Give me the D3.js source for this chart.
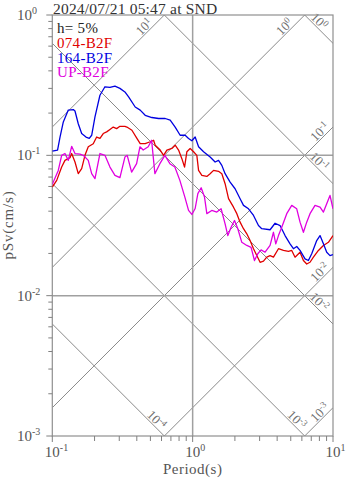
<!DOCTYPE html>
<html><head><meta charset="utf-8">
<script src="https://cdn.jsdelivr.net/npm/d3@7"></script>
<style>body{margin:0;background:#fff}svg{display:block}</style>
</head><body>
<script>
const titleText = "2024/07/21 05:47 at SND";
const dampingText = "h= 5%";
const seriesNames = ["074-B2F", "164-B2F", "UP-B2F"];
const seriesColors = ["#e00000", "#0000e0", "#e000e0"];
const xTickValues = [0.1, 1, 10];
const yTickValues = [1, 0.1, 0.01, 0.001];
const accelLines = [10, 1, 0.1, 0.01, 0.001];      // constant pSa (cm/s^2)
const dispLines = [1, 0.1, 0.01, 0.001, 0.0001];   // constant Sd (cm)

const period074 = [0.100,0.1075,0.1166,0.1231,0.1337,0.1374,0.1451,0.1531,0.1619,0.1709,
0.1804,0.1958,0.2070,0.2185,0.2307,0.2439,0.2575,0.2718,0.2873,0.3033,
0.3291,0.3401,0.3692,0.4007,0.4229,0.4590,0.4983,0.5269,0.5409,0.5871,
0.6207,0.6552,0.7112,0.7506,0.7936,0.8379,0.8756,0.9094,0.9598,1.015,
1.071,1.102,1.163,1.262,1.332,1.409,1.529,1.614,1.703,1.802,
1.955,2.064,2.178,2.303,2.431,2.566,2.714,2.864,3.023,3.197,
3.374,3.562,3.765,4.087,4.436,4.815,5.082,5.365,5.823,6.155,
6.497,6.859,7.252,7.873,8.546,9.275,10.0];
const sv074 = [0.0594,0.0663,0.0825,0.0921,0.0963,0.103,0.0896,0.0740,0.0804,0.100,
0.115,0.121,0.135,0.132,0.143,0.147,0.153,0.159,0.155,0.161,
0.161,0.159,0.151,0.132,0.121,0.121,0.125,0.128,0.118,0.109,
0.100,0.109,0.112,0.118,0.109,0.0947,0.0825,0.106,0.112,0.106,
0.100,0.0781,0.0720,0.0708,0.0740,0.0781,0.0769,0.0740,0.0628,0.0491,
0.0427,0.0384,0.0334,0.0300,0.0276,0.0247,0.0216,0.0193,0.0173,0.0176,
0.0188,0.0193,0.0188,0.0216,0.0210,0.0207,0.0210,0.0188,0.0204,0.0178,
0.0168,0.0173,0.0188,0.0210,0.0228,0.0240,0.0268];

const period164 = [0.100,0.109,0.1135,0.1198,0.130,0.1411,0.1451,0.1531,0.1619,0.1738,
0.1834,0.1908,0.2014,0.2185,0.2372,0.2575,0.2795,0.3033,0.3291,0.3497,
0.3896,0.4229,0.459,0.5124,0.5719,0.6373,0.6918,0.7506,0.8147,0.8843,
0.935,0.9869,1.042,1.102,1.196,1.332,1.446,1.529,1.614,1.703,
1.849,2.006,2.178,2.303,2.5,2.714,2.944,3.108,3.562,3.866,
4.196,4.554,4.943,5.225,5.515,5.823,6.319,6.681,7.053,7.656,
8.083,8.546,9.021,9.519,10.0];
const sv164 = [0.107,0.109,0.135,0.173,0.210,0.212,0.207,0.168,0.143,0.135,
0.132,0.139,0.188,0.268,0.308,0.305,0.311,0.300,0.283,0.261,
0.221,0.210,0.193,0.186,0.183,0.183,0.178,0.159,0.139,0.139,
0.132,0.127,0.135,0.115,0.106,0.0972,0.0896,0.0921,0.0848,0.0740,
0.0645,0.0578,0.0491,0.0440,0.0416,0.0373,0.0316,0.0300,0.0295,0.0328,
0.0316,0.0268,0.0234,0.0216,0.0224,0.0210,0.0183,0.0178,0.0199,0.0247,
0.0268,0.0234,0.0204,0.0193,0.0196];

const periodUP = [0.100,0.1103,0.1166,0.1231,0.1300,0.1374,0.1451,0.1575,0.1662,0.1804,
0.1908,0.2014,0.2185,0.2372,0.2575,0.2795,0.3033,0.3291,0.3418,0.3674,
0.3988,0.4210,0.4444,0.4823,0.5099,0.5383,0.5842,0.6341,0.6883,0.7470,
0.8108,0.8800,0.9350,0.9869,1.042,1.089,1.150,1.215,1.262,1.369,
1.487,1.595,1.703,1.781,1.879,1.987,2.098,2.240,2.431,2.608,
2.758,2.912,3.073,3.281,3.562,3.765,3.911,4.087,4.314,4.682,
5.082,5.515,5.823,6.155,6.497,6.859,7.445,8.083,8.546,9.021,
9.519,10.0];
const svUP = [0.0621,0.0781,0.100,0.103,0.0921,0.116,0.103,0.102,0.100,0.0921,
0.0740,0.0682,0.103,0.100,0.0825,0.0720,0.0693,0.0972,0.100,0.0760,
0.0872,0.115,0.109,0.115,0.128,0.0740,0.0872,0.100,0.0872,0.0825,
0.0663,0.0504,0.0405,0.0379,0.0418,0.0533,0.0588,0.0504,0.0384,0.0405,
0.0394,0.0416,0.0325,0.0268,0.0307,0.0343,0.0300,0.0240,0.0228,0.0221,
0.0178,0.0199,0.0212,0.0204,0.0228,0.0283,0.0234,0.0268,0.0307,0.0384,
0.0440,0.0416,0.0334,0.0283,0.0334,0.0384,0.0440,0.0427,0.0394,0.0452,
0.0518,0.0416];

const seriesPeriods = [period074, period164, periodUP];
const seriesValues = [sv074, sv164, svUP];

const W = 347, H = 478;
const M = {left: 52.3, right: 333, top: 15, bottom: 436};
const FONT = "'Liberation Serif','Times New Roman',serif";
const x = d3.scaleLog().domain([0.1, 10]).range([M.left, M.right]);
const y = d3.scaleLog().domain([0.001, 1]).range([M.bottom, M.top]);

const svg = d3.select("body").append("svg").attr("width", W).attr("height", H)
  .style("font-family", FONT);

svg.append("defs").append("clipPath").attr("id", "clip").append("rect")
  .attr("x", M.left).attr("y", M.top).attr("width", M.right - M.left).attr("height", M.bottom - M.top);

const TWO_PI = 2 * Math.PI;
const gDiag = svg.append("g").attr("clip-path", "url(#clip)");
const gLab = svg.append("g");
const diagColor = "#8a8a8a";
function expLabel(sel, exp, sup, dy) {
  sel.append("tspan").text("10");
  sel.append("tspan").attr("dy", dy).attr("font-size", sup).text(exp);
}
function fmtExp(v) { return String(Math.round(Math.log10(v))); }

// constant acceleration lines (slope +1)
accelLines.forEach(a => {
  const f = T => a * T / TWO_PI;
  gDiag.append("line")
    .attr("x1", x(0.1)).attr("y1", y(f(0.1))).attr("x2", x(10)).attr("y2", y(f(10)))
    .attr("stroke", diagColor).attr("stroke-width", 1);
  const Ttop = TWO_PI / a;
  let ex, ey, back;
  if (Ttop <= 10) { ex = x(Ttop); ey = y(1); back = 20; } else { ex = x(10); ey = y(f(10)); back = 13; }
  const cx = ex - back, cy = ey + back - 8;
  const t = gLab.append("text").attr("transform", `translate(${cx},${cy}) rotate(-45)`)
    .attr("text-anchor", "middle").attr("y", 4).attr("font-size", 13).attr("fill", "#707070");
  expLabel(t, fmtExp(a), 9, -4.5);
});
// constant displacement lines (slope -1)
dispLines.forEach(d => {
  const f = T => TWO_PI * d / T;
  gDiag.append("line")
    .attr("x1", x(0.1)).attr("y1", y(f(0.1))).attr("x2", x(10)).attr("y2", y(f(10)))
    .attr("stroke", diagColor).attr("stroke-width", 1);
  const Tbot = TWO_PI * d / 0.001;
  let ex, ey, back;
  if (Tbot <= 10) { ex = x(Tbot); ey = y(0.001); back = 8; } else { ex = x(10); ey = y(f(10)); back = 14; }
  const cx = ex - back, cy = ey - back - 8;
  const t = gLab.append("text").attr("transform", `translate(${cx},${cy}) rotate(45)`)
    .attr("text-anchor", "middle").attr("y", 4).attr("font-size", 13).attr("fill", "#707070");
  expLabel(t, fmtExp(d), 9, -4.5);
});

// grid lines
const gridColor = "#a0a0a0";
svg.append("line").attr("x1", x(1)).attr("x2", x(1)).attr("y1", M.top).attr("y2", M.bottom)
  .attr("stroke", gridColor).attr("stroke-width", 1.5);
[0.1, 0.01].forEach(v => svg.append("line").attr("x1", M.left).attr("x2", M.right)
  .attr("y1", y(v)).attr("y2", y(v)).attr("stroke", gridColor).attr("stroke-width", 1.5));

// frame
svg.append("rect").attr("x", M.left).attr("y", M.top).attr("width", M.right - M.left)
  .attr("height", M.bottom - M.top).attr("fill", "none").attr("stroke", "#909090").attr("stroke-width", 1.2);

// ticks
const minorY = [], minorX = [];
[0.001, 0.01, 0.1].forEach(dec => { for (let k = 2; k <= 9; k++) minorY.push(dec * k); });
[0.1, 1].forEach(dec => { for (let k = 2; k <= 9; k++) minorX.push(dec * k); });
const tickColor = "#808080";
yTickValues.forEach(v => svg.append("line").attr("x1", M.left - 6).attr("x2", M.left).attr("y1", y(v)).attr("y2", y(v)).attr("stroke", tickColor));
minorY.forEach(v => svg.append("line").attr("x1", M.left - 4).attr("x2", M.left).attr("y1", y(v)).attr("y2", y(v)).attr("stroke", tickColor));
xTickValues.forEach(v => svg.append("line").attr("y1", M.bottom).attr("y2", M.bottom + 6).attr("x1", x(v)).attr("x2", x(v)).attr("stroke", tickColor));
minorX.forEach(v => svg.append("line").attr("y1", M.bottom).attr("y2", M.bottom + 5).attr("x1", x(v)).attr("x2", x(v)).attr("stroke", tickColor));

// tick labels
const axisText = "#555";
yTickValues.forEach(v => {
  const t = svg.append("text").attr("x", 17).attr("y", y(v) + 5).attr("font-size", 15).attr("fill", axisText);
  expLabel(t, fmtExp(v), 10, -6);
});
xTickValues.forEach(v => {
  const t = svg.append("text").attr("x", x(v) - 7.5).attr("y", 457).attr("font-size", 15).attr("fill", axisText);
  expLabel(t, fmtExp(v), 10, -6);
});
svg.append("text").attr("x", x(1)).attr("y", 474).attr("text-anchor", "middle")
  .attr("font-size", 15).attr("fill", axisText).attr("letter-spacing", 0.5).text("Period(s)");
svg.append("text").attr("transform", `translate(13,225) rotate(-90)`).attr("text-anchor", "middle")
  .attr("font-size", 15).attr("fill", axisText).attr("letter-spacing", 0.8).text("pSv(cm/s)");

// title
svg.append("text").attr("x", 53).attr("y", 13.5).attr("font-size", 15.5).attr("letter-spacing", 0.2)
  .attr("fill", "#333").text(titleText);

// curves
const line = d3.line().x(d => x(d[0])).y(d => y(d[1]));
const gCurves = svg.append("g").attr("clip-path", "url(#clip)");
seriesNames.forEach((name, i) => {
  const data = seriesPeriods[i].map((p, j) => [p, seriesValues[i][j]]);
  gCurves.append("path").datum(data).attr("d", line).attr("fill", "none")
    .attr("stroke", seriesColors[i]).attr("stroke-width", 1.3).attr("stroke-linejoin", "round");
});

// legend
svg.append("text").attr("x", 57).attr("y", 33).attr("font-size", 15).attr("letter-spacing", 0.3).attr("fill", "#222").text(dampingText);
seriesNames.forEach((name, i) => {
  svg.append("text").attr("x", 57).attr("y", 48 + i * 14.5).attr("font-size", 15)
    .attr("letter-spacing", 0.3).attr("fill", seriesColors[i]).text(name);
});
</script>
</body></html>
